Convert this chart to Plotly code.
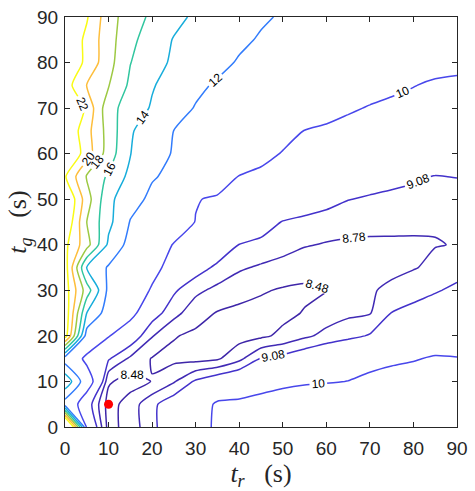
import plotly.graph_objects as go

# grid axes (s)
tr_vals = [0, 5, 10, 15, 20, 25, 30, 35, 40, 45, 50, 55, 60, 65, 70, 75, 80, 85, 90]
tg_vals = [0, 5, 10, 15, 20, 25, 30, 35, 40, 45, 50, 55, 60, 65, 70, 75, 80, 85, 90]

# field values, one list per t_g row (read/estimated from the contour picture)
tg_00 = [30, 9.7, 8.36, 8.62, 8.98, 9.4, 9.75, 10.1, 10.4, 10.6, 10.8, 10.9, 11.0, 11.1, 11.15, 11.2, 11.25, 11.3, 11.35]
tg_05 = [11, 9.3, 8.35, 8.62, 9.0, 9.3, 9.6, 10.1, 10.15, 10.3, 10.45, 10.55, 10.6, 10.7, 10.75, 10.8, 10.85, 10.9, 10.95]
tg_10 = [15.5, 10.6, 8.52, 8.35, 8.49, 8.75, 9.13, 9.35, 9.5, 9.65, 9.8, 9.9, 9.95, 10.01, 10.15, 10.25, 10.35, 10.45, 10.5]
tg_15 = [11, 9.75, 9.12, 8.72, 8.46, 8.4, 8.38, 8.44, 8.7, 9.1, 9.2, 9.35, 9.5, 9.65, 9.78, 9.88, 9.95, 10.08, 10.03]
tg_20 = [23, 11, 10.05, 9.35, 8.8, 8.5, 8.42, 8.37, 8.36, 8.42, 8.55, 8.72, 8.87, 8.98, 9.11, 9.25, 9.38, 9.5, 9.62]
tg_25 = [23.5, 14, 11, 10.3, 9.25, 8.88, 8.6, 8.46, 8.4, 8.38, 8.4, 8.5, 8.62, 8.72, 8.76, 9.09, 9.18, 9.27, 9.38]
tg_30 = [23, 17, 11.5, 10.45, 9.93, 9.13, 8.85, 8.7, 8.6, 8.51, 8.45, 8.42, 8.47, 8.6, 8.74, 8.86, 8.96, 9.05, 9.15]
tg_35 = [23, 13.8, 11.8, 10.9, 10.2, 9.75, 9.25, 9.0, 8.82, 8.74, 8.67, 8.62, 8.6, 8.6, 8.63, 8.69, 8.76, 8.85, 8.95]
tg_40 = [22.5, 18.8, 13.6, 11.3, 10.65, 9.94, 9.65, 9.37, 9.07, 8.99, 8.9, 8.8, 8.76, 8.74, 8.74, 8.75, 8.76, 8.77, 8.79]
tg_45 = [24, 18, 14.5, 11.9, 11.3, 10.6, 9.97, 9.75, 9.5, 9.27, 9.06, 8.98, 8.93, 8.88, 8.85, 8.83, 8.81, 8.8, 8.84]
tg_50 = [24.5, 18.9, 14.5, 12.7, 11.6, 10.85, 10.05, 9.88, 9.74, 9.61, 9.48, 9.34, 9.21, 9.09, 9.04, 9.01, 8.99, 8.97, 8.95]
tg_55 = [22.2, 17.8, 15.7, 13.45, 12.15, 11.6, 11.1, 10.5, 9.97, 9.8, 9.65, 9.52, 9.42, 9.33, 9.25, 9.18, 9.12, 9.07, 9.09]
tg_60 = [24.5, 21, 17, 14.05, 12.8, 11.85, 11.4, 11.05, 10.65, 10.27, 9.95, 9.8, 9.68, 9.58, 9.5, 9.45, 9.4, 9.33, 9.28]
tg_65 = [24, 20.7, 17.2, 14.2, 13, 11.98, 11.6, 11.3, 11, 10.65, 10.3, 9.98, 9.85, 9.75, 9.68, 9.62, 9.58, 9.54, 9.5]
tg_70 = [26, 21.5, 16.7, 15.1, 13.8, 12.7, 11.9, 11.6, 11.3, 11.05, 10.8, 10.6, 10.35, 10.1, 9.95, 9.85, 9.8, 9.75, 9.7]
tg_75 = [23, 19.9, 18.1, 15.6, 14.15, 13.2, 12.35, 11.8, 11.4, 11.1, 10.9, 10.75, 10.6, 10.45, 10.3, 10.15, 10.02, 9.9, 9.85]
tg_80 = [24, 21.5, 18.7, 16.05, 14.7, 13.7, 13.1, 12.45, 11.85, 11.5, 11.2, 10.95, 10.8, 10.65, 10.55, 10.45, 10.35, 10.25, 10.2]
tg_85 = [24, 21.5, 18.8, 16.5, 15, 13.9, 13.4, 12.85, 12.3, 11.85, 11.6, 11.35, 11.15, 11, 10.85, 10.75, 10.65, 10.55, 10.5]
tg_90 = [25, 22.2, 18.8, 17, 15.6, 14.5, 13.7, 13.3, 12.7, 12.2, 11.85, 11.6, 11.4, 11.25, 11.1, 11, 10.9, 10.85, 10.8]

z = [tg_00, tg_05, tg_10, tg_15, tg_20, tg_25, tg_30, tg_35, tg_40, tg_45,
     tg_50, tg_55, tg_60, tg_65, tg_70, tg_75, tg_80, tg_85, tg_90]

levels = [8.48, 8.78, 9.08, 10, 12, 14, 16, 18, 20, 22]
level_colors = ['#3e26a8', '#402ab4', '#4332cb', '#4847eb', '#327cfc', '#18addb',
                '#31c69f', '#9dc943', '#fdbe3c', '#f9fb15']

opt_tr = [10]
opt_tg = [5]

fig = go.Figure()
for lv, col in zip(levels, level_colors):
    fig.add_trace(go.Contour(
        x=tr_vals, y=tg_vals, z=z,
        autocontour=False,
        contours=dict(start=lv, end=lv, size=1, coloring='none', showlabels=True,
                      labelfont=dict(size=12, color='black', family='Liberation Sans'),
                      labelformat='.3~g'),
        line=dict(color=col, width=1.5, smoothing=0.6),
        showscale=False, hoverinfo='skip'))

fig.add_trace(go.Scatter(x=opt_tr, y=opt_tg, mode='markers',
                         marker=dict(color='#ff0000', size=9), hoverinfo='skip'))

axis_common = dict(range=[0, 90], tickvals=list(range(0, 91, 10)), ticks='inside', ticklen=5,
                   tickcolor='#262626', showline=True, linecolor='#262626', linewidth=1,
                   mirror='ticks', showgrid=False, zeroline=False,
                   ticklabeloverflow='allow',
                   tickfont=dict(size=19, family='Liberation Sans', color='#262626'))

fig.update_layout(
    width=475, height=491,
    margin=dict(l=65, r=10, t=7, b=64),
    paper_bgcolor='white', plot_bgcolor='white',
    showlegend=False,
    xaxis=dict(**axis_common, ticklabelstandoff=4,
               title=dict(text='<i>t</i><sub><i>r</i></sub>&nbsp;&nbsp;&nbsp;(s)',
                          font=dict(size=26, family='Liberation Serif', color='#262626'),
                          standoff=0)),
    yaxis=dict(**axis_common, ticklabelstandoff=2,
               title=dict(text='<i>t</i><sub><i>g</i></sub>&nbsp;&nbsp;&nbsp;(s)',
                          font=dict(size=26, family='Liberation Serif', color='#262626'),
                          standoff=2)),
)

fig.write_html("out.html", config={'displayModeBar': False},
               post_script="document.body.style.margin='0';document.body.style.padding='0';")
